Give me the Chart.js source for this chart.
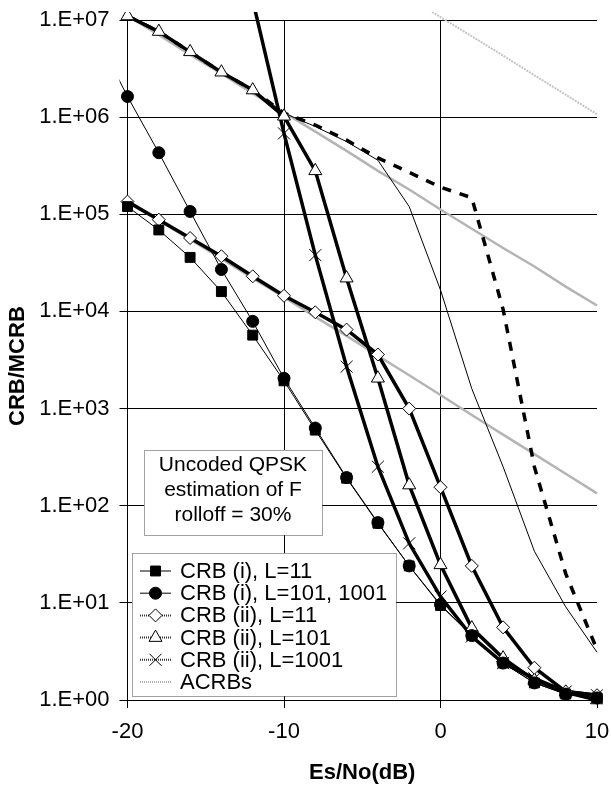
<!doctype html>
<html>
<head>
<meta charset="utf-8">
<script src="https://cdn.jsdelivr.net/npm/chart.js@4.4.0/dist/chart.umd.min.js"></script>
<style>
  body { margin: 0; background: #fff; }
</style>
</head>
<body>
<canvas id="c1" width="611" height="787"></canvas>
<script>
  // x values (dB); -22 only carries the piece of line left of the axis
  const snrDb = [-22, -20, -18, -16, -14, -12, -10, -8, -6, -4, -2, 0, 2, 4, 6, 8, 10];

  const crbI_L11    = [null, 1.2e5, 6.9e4, 3.6e4, 1.6e4, 5.7e3, 1.93e3, 600, 192, 66, 24, 9.4, 4.6, 2.4, 1.5, 1.15, 1.05];
  const crbI_L101   = [7e6, 1.63e6, 4.3e5, 1.07e5, 2.7e4, 7.9e3, 2.05e3, 630, 195, 67, 24, 9.6, 4.6, 2.4, 1.5, 1.15, 1.05];
  const crbII_L11   = [null, 1.35e5, 8.8e4, 5.7e4, 3.7e4, 2.3e4, 1.45e4, 9.8e3, 6.5e3, 3.6e3, 1000, 155, 24, 5.6, 2.15, 1.22, 1.12];
  const crbII_L101  = [null, 1.1e7, 7.6e6, 4.7e6, 2.9e6, 1.9e6, 1.02e6, 2.8e5, 2.2e4, 2.05e3, 163, 24.6, 5.5, 2.7, 1.6, 1.2, 1.0];
  const crbII_L1001 = [null, null, null, null, null, 1.6e7, 6.8e5, 3.8e4, 2.7e3, 252, 41, 11.6, 4.5, 2.4, 1.67, 1.22, 1.12];
  const dashedCurve = [null, 1.1e7, 7.6e6, 4.7e6, 2.9e6, 1.9e6, 1.1e6, 8.3e5, 5.8e5, 3.8e5, 2.7e5, 1.9e5, 1.48e5, 1.05e4, 251, 20, 3.3];
  const thinCurve   = [null, 1.1e7, 7.6e6, 4.7e6, 2.9e6, 1.9e6, 1.1e6, 8.0e5, 5.6e5, 3.6e5, 1.2e5, 1.66e4, 1.6e3, 252, 34, 9.1, 3.1];
  const acrb_L11    = [null, 1.35e5, 8.6e4, 5.5e4, 3.5e4, 2.2e4, 1.4e4, 8.8e3, 5.6e3, 3.5e3, 2.2e3, 1.38e3, 860, 540, 340, 213, 134];
  const acrb_L101   = [null, 1.1e7, 7.0e6, 4.4e6, 2.8e6, 1.75e6, 1.12e6, 7.1e5, 4.5e5, 2.8e5, 1.8e5, 1.12e5, 7.1e4, 4.5e4, 2.9e4, 1.8e4, 1.15e4];
  const acrb_L1001  = [null, null, null, null, null, null, null, null, null, null, 1.7e7, 1.07e7, 6.8e6, 4.3e6, 2.7e6, 1.7e6, 1.07e6];

  const yTicks = [1, 10, 100, 1e3, 1e4, 1e5, 1e6, 1e7];
  const yTickLabels = ['1.E+00', '1.E+01', '1.E+02', '1.E+03', '1.E+04', '1.E+05', '1.E+06', '1.E+07'];
  const legendNames = ['CRB (i), L=11', 'CRB (i), L=101, 1001', 'CRB (ii), L=11', 'CRB (ii), L=101', 'CRB (ii), L=1001', 'ACRBs'];
  const noteLines = ['Uncoded QPSK', 'estimation of F', 'rolloff = 30%'];

  const FONT = "'Liberation Sans', Arial, sans-serif";
  Chart.defaults.font.family = FONT;
  Chart.defaults.color = '#000';

  function pts(vals) {
    return snrDb.map((x, i) => ({ x: x, y: vals[i] }));
  }

  const clipBox = { left: 8, top: 8, right: 6, bottom: 10 };

  function series(label, vals, o) {
    return Object.assign({
      label: label, data: pts(vals), borderColor: '#000', borderWidth: 1,
      pointRadius: 0, pointBorderColor: '#000', pointBorderWidth: 1,
      tension: 0, clip: clipBox, spanGaps: false
    }, o);
  }

  const datasets = [
    series(legendNames[0], crbI_L11, { pointStyle: 'rect', pointRadius: 7, pointBackgroundColor: '#000' }),
    series(legendNames[1], crbI_L101, { pointStyle: 'circle', pointRadius: 6, pointBackgroundColor: '#000' }),
    series(legendNames[2], crbII_L11, { borderWidth: 3.5, pointStyle: 'rectRot', pointRadius: 6.5, pointBackgroundColor: '#fff' }),
    series(legendNames[3], crbII_L101, { borderWidth: 3.5, pointStyle: 'triangle', pointRadius: 7.5, pointBackgroundColor: '#fff' }),
    series(legendNames[4], crbII_L1001, { borderWidth: 3.5, pointStyle: 'crossRot', pointRadius: 8.5, pointBackgroundColor: '#fff' }),
    series('dashed', dashedCurve, { borderWidth: 3.5, borderDash: [9, 9] }),
    series('thin', thinCurve, { borderWidth: 1 }),
    series('acrb11', acrb_L11, { borderColor: '#b4b4b4', borderWidth: 2.5 }),
    series('acrb101', acrb_L101, { borderColor: '#b4b4b4', borderWidth: 2.5 }),
    series('acrb1001', acrb_L1001, { borderColor: '#c4c4c4', borderWidth: 2, borderDash: [2, 1] })
  ];

  function drawMarker(ctx, style, x, y, r) {
    ctx.beginPath();
    if (style === 'rect') {
      const s = r * Math.SQRT1_2;
      ctx.rect(x - s, y - s, 2 * s, 2 * s);
    } else if (style === 'circle') {
      ctx.arc(x, y, r, 0, Math.PI * 2);
    } else if (style === 'rectRot') {
      ctx.moveTo(x - r, y); ctx.lineTo(x, y - r); ctx.lineTo(x + r, y); ctx.lineTo(x, y + r); ctx.closePath();
    } else if (style === 'triangle') {
      ctx.moveTo(x, y - r); ctx.lineTo(x + r * 0.866, y + r / 2); ctx.lineTo(x - r * 0.866, y + r / 2); ctx.closePath();
    } else if (style === 'crossRot') {
      const s = r * Math.SQRT1_2;
      ctx.moveTo(x - s, y - s); ctx.lineTo(x + s, y + s);
      ctx.moveTo(x + s, y - s); ctx.lineTo(x - s, y + s);
    }
    if (style !== 'crossRot') ctx.fill();
    ctx.stroke();
  }

  const boxesPlugin = {
    id: 'boxes',
    afterDatasetsDraw(chart) {
      const ctx = chart.ctx;
      ctx.save();
      // note box
      ctx.fillStyle = '#fff';
      ctx.fillRect(144, 450, 178, 85);
      ctx.setLineDash([1, 1]);
      ctx.strokeStyle = '#444';
      ctx.lineWidth = 1;
      ctx.strokeRect(144.5, 450.5, 178, 85);
      ctx.setLineDash([]);
      ctx.fillStyle = '#000';
      ctx.font = '21px ' + FONT;
      ctx.textAlign = 'center';
      ctx.textBaseline = 'middle';
      noteLines.forEach((t, i) => ctx.fillText(t, 233, 465 + i * 25));

      // legend
      ctx.fillStyle = '#fff';
      ctx.fillRect(132, 553, 264, 143);
      ctx.setLineDash([1, 1]);
      ctx.strokeStyle = '#444';
      ctx.strokeRect(132.5, 553.5, 264, 143);
      ctx.font = '22px ' + FONT;
      ctx.textAlign = 'left';
      legendNames.forEach((name, i) => {
        const y = 571 + i * 22.2;
        ctx.save();
        if (i < 2) { ctx.setLineDash([]); ctx.strokeStyle = '#000'; ctx.lineWidth = 1; }
        else if (i < 5) { ctx.setLineDash([1, 1]); ctx.strokeStyle = '#333'; ctx.lineWidth = 2; }
        else { ctx.setLineDash([1, 1]); ctx.strokeStyle = '#b0b0b0'; ctx.lineWidth = 2; }
        ctx.beginPath(); ctx.moveTo(140, y); ctx.lineTo(171, y); ctx.stroke();
        if (i < 5) {
          const ds = datasets[i];
          ctx.setLineDash([]);
          ctx.lineWidth = 1;
          ctx.strokeStyle = '#000';
          ctx.fillStyle = ds.pointBackgroundColor;
          drawMarker(ctx, ds.pointStyle, 155.5, y, ds.pointRadius);
        }
        ctx.restore();
        ctx.fillStyle = '#000';
        ctx.fillText(name, 180, y + 1);
      });
      ctx.restore();
    }
  };

  new Chart(document.getElementById('c1'), {
    type: 'line',
    data: { datasets: datasets },
    options: {
      responsive: false,
      animation: false,
      events: [],
      layout: { padding: { top: 20, right: 14, left: 0, bottom: 0 } },
      plugins: { legend: { display: false }, tooltip: { enabled: false } },
      scales: {
        x: {
          type: 'linear', min: -20, max: 10,
          ticks: { stepSize: 10, font: { size: 22 }, padding: 11, color: '#000', maxRotation: 0 },
          grid: {
            color: ctx => (ctx.tick && ctx.tick.value === 10 ? 'rgba(0,0,0,0)' : '#000'),
            tickColor: '#000', tickLength: 8, lineWidth: 1
          },
          border: { color: '#000', width: 1 },
          title: { display: true, text: 'Es/No(dB)', font: { size: 22, weight: 'bold' }, padding: { top: 0, bottom: 1 }, color: '#000' },
          afterFit: s => { s.height = 87; s.paddingLeft = 0; s.paddingRight = 0; }
        },
        y: {
          type: 'logarithmic', min: 1, max: 1e7,
          afterBuildTicks: s => { s.ticks = yTicks.map(v => ({ value: v })); },
          ticks: {
            font: { size: 22 }, padding: 10, color: '#000', autoSkip: false,
            callback: (v) => yTickLabels[yTicks.indexOf(v)]
          },
          grid: { color: '#000', tickColor: '#000', tickLength: 8, lineWidth: 1 },
          border: { color: '#000', width: 1 },
          title: { display: true, text: 'CRB/MCRB  ', font: { size: 22, weight: 'bold' }, padding: { top: 5, bottom: 0 }, color: '#000' },
          afterFit: s => { s.width = 127.5; s.paddingTop = 0; s.paddingBottom = 0; }
        }
      }
    },
    plugins: [boxesPlugin]
  });
</script>
</body>
</html>
